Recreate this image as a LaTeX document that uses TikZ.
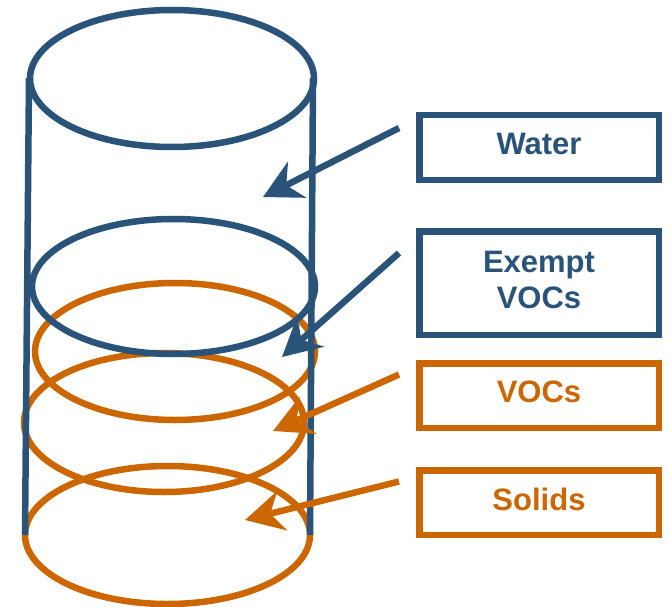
\documentclass[tikz,border=0pt]{standalone}
\usepackage{fontspec}
\setmainfont{Liberation Sans}
\usetikzlibrary{positioning, arrows.meta}
\definecolor{dblue}{RGB}{42,83,122}
\definecolor{dorange}{RGB}{204,102,0}

\begin{document}
\begin{tikzpicture}[x=1pt, y=-1pt, node distance=45pt,
  box/.style={draw, line width=6.5pt, minimum width=239.5pt, minimum height=64.5pt, text depth=7pt, align=center, font=\fontsize{31}{36}\selectfont\bfseries},
  ring/.style={line width=6.5pt},
  pointer/.style={line width=6.5pt, -{Stealth[length=38pt, width=40pt, inset=12pt]}}]
\useasboundingbox (0,0) rectangle (669,607);

% layers in the can
\draw[ring, dorange] (167.5,535) ellipse [x radius=142.5pt, y radius=69pt];
\draw[ring, dorange] (164,422.5) ellipse [x radius=140pt, y radius=69.5pt];
\draw[ring, dorange] (175,351.5) ellipse [x radius=140pt, y radius=68.5pt];

% the can
\draw[ring, dblue] (172,78.5) ellipse [x radius=142pt, y radius=68.5pt];
\draw[ring, dblue] (29,78) -- (25,535);
\draw[ring, dblue] (313,78) -- (310,535);
\draw[ring, dblue] (173.5,286.5) ellipse [x radius=141.5pt, y radius=67.5pt];

\node[box, dblue] (water) at (539,147.5) {Water};
\node[box, dblue, minimum height=103.5pt] (exempt) [below=of water] {Exempt\\VOCs};
\node[box, dorange] (vocs) [below=22pt of exempt] {VOCs};
\node[box, dorange] (solids) [below=36pt of vocs] {Solids};

\coordinate (wtip) at (263,197);
\coordinate (etip) at (282,357);
\coordinate (vtip) at (273,431);
\coordinate (stip) at (245,520);

\draw[pointer, dblue] ([xshift=-17pt, yshift=19.5pt]water.west) -- (wtip);
\draw[pointer, dblue] ([xshift=-17pt, yshift=30pt]exempt.west) -- (etip);
\draw[pointer, dorange] ([xshift=-17pt, yshift=21pt]vocs.west) -- (vtip);
\draw[pointer, dorange] ([xshift=-17pt, yshift=21pt]solids.west) -- (stip);
\end{tikzpicture}
\end{document}
